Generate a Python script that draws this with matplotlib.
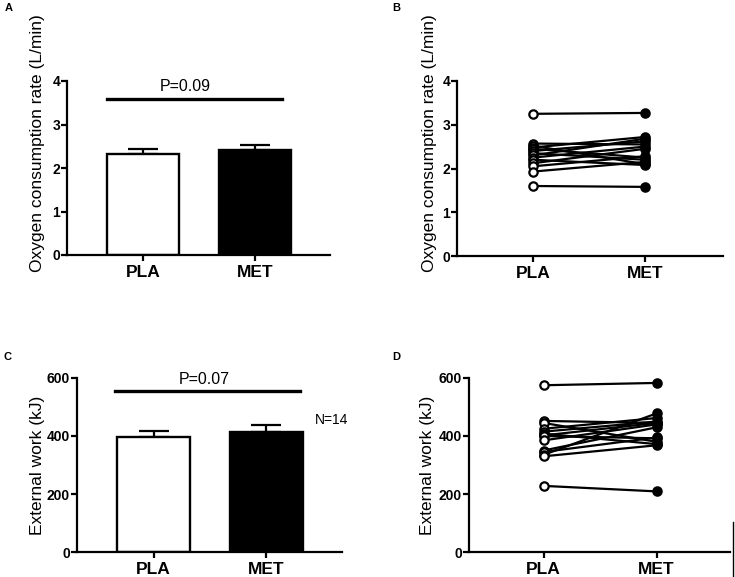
import matplotlib
matplotlib.use('Agg')
import matplotlib.pyplot as plt
from matplotlib.lines import Line2D

plt.rcParams['font.family'] = ['Liberation Sans', 'DejaVu Sans']

# ---- data ----
groups = ['PLA', 'MET']

oxy_mean = [2.32, 2.41]
oxy_sem = [0.11, 0.11]
work_mean = [395, 414]
work_sem = [23, 23]

oxy_pla = [3.25, 2.57, 2.52, 2.48, 2.45, 2.40, 2.35, 2.30, 2.25, 2.20, 2.12, 2.05, 1.93, 1.60]
oxy_met = [3.27, 2.55, 2.10, 2.72, 2.25, 2.62, 2.20, 2.68, 2.50, 2.08, 2.45, 2.28, 2.15, 1.58]

work_pla = [575, 452, 445, 425, 415, 408, 402, 400, 385, 350, 345, 335, 330, 228]
work_met = [583, 445, 380, 462, 450, 372, 445, 392, 440, 430, 395, 478, 368, 209]

p_oxy = 'P=0.09'
p_work = 'P=0.07'
n_label = 'N=14'

oxy_label = 'Oxygen consumption rate (L/min)'
work_label = 'External work (kJ)'

W, H = 735, 577


def px_axes(left, top, right, bottom):
    return [left / W, (H - bottom) / H, (right - left) / W, (bottom - top) / H]


def style_axes(ax, ylim, yticks):
    for s in ['top', 'right']:
        ax.spines[s].set_visible(False)
    for s in ['left', 'bottom']:
        ax.spines[s].set_linewidth(1.6)
    ax.set_ylim(*ylim)
    ax.set_yticks(yticks)
    ax.set_xticks([0, 1])
    ax.set_xticklabels(groups, fontsize=12.5, fontweight='bold')
    ax.tick_params(axis='y', labelsize=10, width=1.6, length=4, pad=1)
    ax.tick_params(axis='x', width=1.6, length=4, pad=3)
    for t in ax.get_yticklabels():
        t.set_fontweight('bold')


def bar_panel(ax, means, sems, ylim, yticks, ylabel, ptext, sig_y, sig_x, text_x, lab_xy):
    x = [0, 1]
    ax.bar(x, means, width=0.65, color=['white', 'black'], edgecolor='black',
           linewidth=1.7, zorder=2)
    ax.errorbar(x, means, yerr=[[0, 0], sems], fmt='none', ecolor='black',
                elinewidth=1.6, capsize=10.5, capthick=1.6, zorder=1)
    ax.plot(sig_x, [sig_y, sig_y], color='black', lw=2.4, clip_on=False)
    ax.text(text_x, sig_y + (ylim[1] - ylim[0]) * 0.025, ptext, ha='center', va='bottom',
            fontsize=11.5)
    ax.set_xlim(-0.68, 1.67)
    style_axes(ax, ylim, yticks)
    ax.set_ylabel(ylabel, fontsize=12.5)
    ax.yaxis.set_label_coords(*lab_xy)


def pair_panel(ax, pla, met, ylim, yticks, ylabel, xlim, lab_xy):
    for a, b in zip(pla, met):
        ax.plot([0, 1], [a, b], color='black', lw=1.6, zorder=1)
    ax.plot([0] * len(pla), pla, 'o', ms=6, mfc='white', mec='black', mew=1.6, zorder=3)
    ax.plot([1] * len(met), met, 'o', ms=6, mfc='black', mec='black', mew=1.6, zorder=3)
    ax.set_xlim(*xlim)
    style_axes(ax, ylim, yticks)
    ax.set_ylabel(ylabel, fontsize=12.5)
    ax.yaxis.set_label_coords(*lab_xy)


fig = plt.figure(figsize=(W / 100, H / 100), dpi=100)

axA = fig.add_axes(px_axes(67, 81, 330, 255))
bar_panel(axA, oxy_mean, oxy_sem, (0, 4), [0, 1, 2, 3, 4], oxy_label, p_oxy,
          3.59, [-0.32, 1.24], 0.375, (-0.084, 0.644))

axB = fig.add_axes(px_axes(457, 81, 723, 256))
pair_panel(axB, oxy_pla, oxy_met, (0, 4), [0, 1, 2, 3, 4], oxy_label,
           (-0.68, 1.70), (-0.075, 0.646))

axC = fig.add_axes(px_axes(77, 378, 342, 552))
bar_panel(axC, work_mean, work_sem, (0, 600), [0, 200, 400, 600], work_label, p_work,
          555, [-0.34, 1.30], 0.45, (-0.121, 0.5))
axC.text(1.58, 455, n_label, ha='center', va='center', fontsize=10)

axD = fig.add_axes(px_axes(469, 378, 730, 552))
pair_panel(axD, work_pla, work_met, (0, 600), [0, 200, 400, 600], work_label,
           (-0.66, 1.65), (-0.130, 0.5))

# panel letters
for lab, (px, py) in zip('ABCD', [(5, 8), (392, 8), (3, 357), (392, 357)]):
    fig.text(px / W, 1 - py / H, lab, fontsize=8, fontweight='bold', ha='left', va='center')

# stray vertical rule at the bottom right of the original image
fig.add_artist(Line2D([733 / W, 733 / W], [0, 1 - 522 / H], color='black', lw=1.0))

fig.savefig('out.png', dpi=100, facecolor='white')
